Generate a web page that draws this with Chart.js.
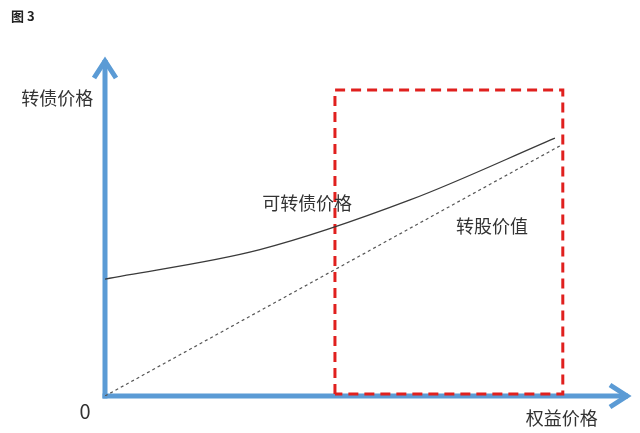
<!DOCTYPE html>
<html>
<head>
<meta charset="utf-8">
<script src="https://cdn.jsdelivr.net/npm/chart.js@4/dist/chart.umd.min.js"></script>
<style>
    html, body { margin: 0; padding: 0; background: #fff; }
    #wrap { width: 640px; height: 433px; }
</style>
</head>
<body>
<div id="wrap"><canvas id="chart" width="640" height="433"></canvas></div>
<script>
// Data (x = 权益价格, y = 价格), arbitrary units
const curveX = [0, 2.95, 5.81, 8.57];
const curveY = [3.46, 4.33, 5.80, 7.63];

const valueX = [0, 8.70];
const valueY = [0, 7.43];

// Highlighted region
const boxX = [4.38, 4.38, 8.72, 8.72, 4.38];
const boxY = [0.06, 9.05, 9.05, 0.06, 0.06];

// Text labels
const labelTexts = ['转债价格', '0', '权益价格', '可转债价格', '转股价值'];
const labelX = [-0.91, -0.38, 8.70, 3.85, 7.37];
const labelY = [8.82, -0.47, -0.65, 5.71, 5.03];
const labelSizes = [18, 20, 18, 18, 18];

const AXIS_BLUE = '#5b9bd5';
const CJK_FONT = '"Noto Sans CJK SC", "Noto Sans", sans-serif';

function toPoints(xs, ys) {
    return xs.map((x, i) => ({ x: x, y: ys[i] }));
}

// Axes with open arrowheads, drawn under the data
const arrowAxes = {
    id: 'arrowAxes',
    beforeDatasetsDraw(chart) {
        const { ctx, chartArea } = chart;
        const left = chartArea.left;
        const bottom = chartArea.bottom;
        ctx.save();
        ctx.strokeStyle = AXIS_BLUE;
        ctx.lineWidth = 5;
        ctx.lineCap = 'butt';
        ctx.lineJoin = 'miter';

        // y axis
        ctx.beginPath();
        ctx.moveTo(left, bottom + 2.5);
        ctx.lineTo(left, chartArea.top + 2);
        ctx.stroke();
        ctx.beginPath();
        ctx.moveTo(left - 11, chartArea.top + 20);
        ctx.lineTo(left, chartArea.top + 3);
        ctx.lineTo(left + 11, chartArea.top + 20);
        ctx.stroke();

        // x axis
        ctx.beginPath();
        ctx.moveTo(left - 2.5, bottom);
        ctx.lineTo(chartArea.right - 2, bottom);
        ctx.stroke();
        ctx.beginPath();
        ctx.moveTo(chartArea.right - 20, bottom - 11);
        ctx.lineTo(chartArea.right - 3, bottom);
        ctx.lineTo(chartArea.right - 20, bottom + 11);
        ctx.stroke();
        ctx.restore();
    }
};

// Text labels positioned through the scales
const textLabels = {
    id: 'textLabels',
    afterDatasetsDraw(chart) {
        const { ctx, scales } = chart;
        ctx.save();
        ctx.fillStyle = '#333';
        ctx.textAlign = 'center';
        ctx.textBaseline = 'middle';
        labelTexts.forEach((text, i) => {
            ctx.font = `${labelSizes[i]}px ${CJK_FONT}`;
            ctx.fillText(text, scales.x.getPixelForValue(labelX[i]), scales.y.getPixelForValue(labelY[i]));
        });

        // figure caption
        ctx.font = `bold 13px ${CJK_FONT}`;
        ctx.textAlign = 'left';
        ctx.fillStyle = '#222';
        ctx.fillText('图 3', 11, 16);
        ctx.restore();
    }
};

new Chart(document.getElementById('chart'), {
    type: 'scatter',
    data: {
        datasets: [{
            label: '区域',
            data: toPoints(boxX, boxY),
            showLine: true,
            borderColor: '#e0201e',
            borderWidth: 3,
            borderDash: [10, 6],
            pointRadius: 0,
            tension: 0,
            fill: false,
            order: 3
        }, {
            label: '转股价值',
            data: toPoints(valueX, valueY),
            showLine: true,
            borderColor: '#555',
            borderWidth: 1.2,
            borderDash: [3, 3],
            pointRadius: 0,
            fill: false,
            order: 2
        }, {
            label: '可转债价格',
            data: toPoints(curveX, curveY),
            showLine: true,
            borderColor: '#3a3a3a',
            borderWidth: 1.3,
            pointRadius: 0,
            cubicInterpolationMode: 'monotone',
            fill: false,
            order: 1
        }]
    },
    options: {
        responsive: false,
        animation: false,
        layout: {
            padding: { left: 105, right: 10, top: 58, bottom: 37 }
        },
        scales: {
            x: { type: 'linear', min: 0, max: 10, display: false },
            y: { type: 'linear', min: 0, max: 10, display: false }
        },
        plugins: {
            legend: { display: false },
            tooltip: { enabled: false }
        }
    },
    plugins: [arrowAxes, textLabels]
});
</script>
</body>
</html>
